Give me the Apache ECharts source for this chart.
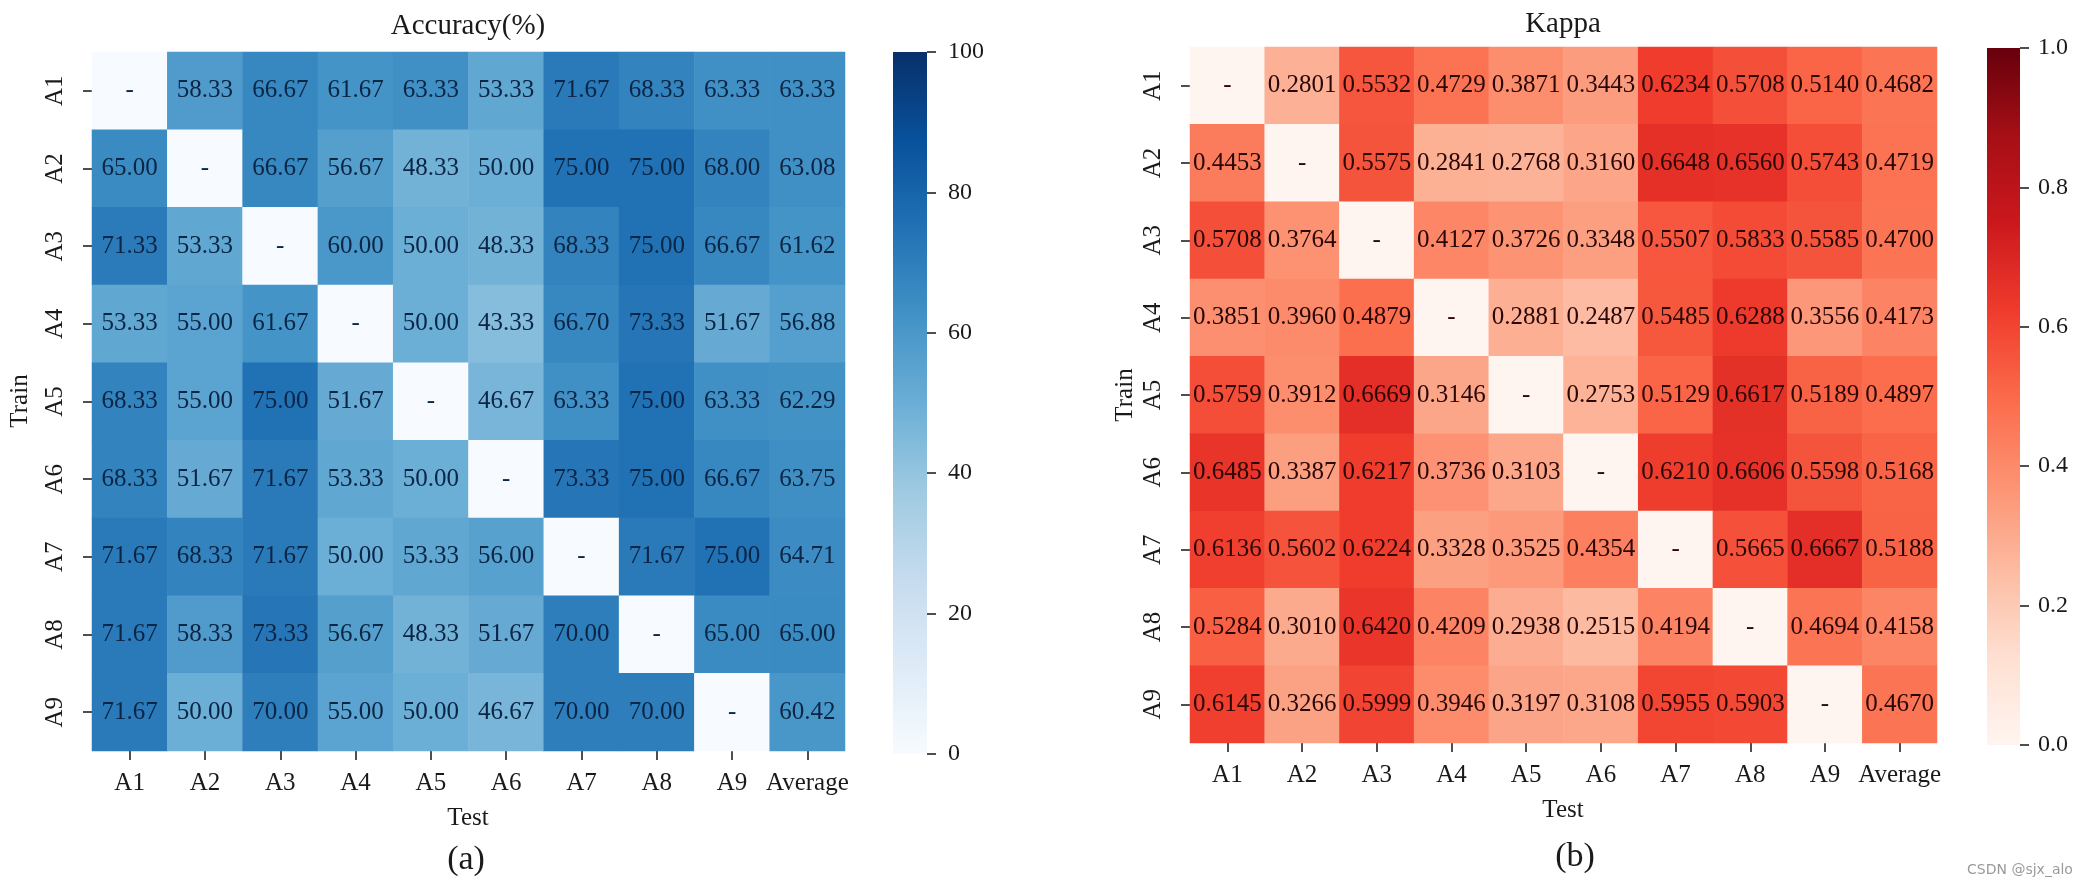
<!DOCTYPE html>
<html>
<head>
<meta charset="utf-8">
<script src="https://cdn.jsdelivr.net/npm/echarts@6/dist/echarts.min.js"></script>
<style>
html,body{margin:0;padding:0;background:#fff;}
#c{width:2079px;height:886px;}
</style>
</head>
<body>
<div id="c"></div>
<script>
// ---- data ----
const testCats = ['A1','A2','A3','A4','A5','A6','A7','A8','A9','Average'];
const trainCats = ['A1','A2','A3','A4','A5','A6','A7','A8','A9'];

const accA1 = ['-', 58.33, 66.67, 61.67, 63.33, 53.33, 71.67, 68.33, 63.33, 63.33];
const accA2 = [65.00, '-', 66.67, 56.67, 48.33, 50.00, 75.00, 75.00, 68.00, 63.08];
const accA3 = [71.33, 53.33, '-', 60.00, 50.00, 48.33, 68.33, 75.00, 66.67, 61.62];
const accA4 = [53.33, 55.00, 61.67, '-', 50.00, 43.33, 66.70, 73.33, 51.67, 56.88];
const accA5 = [68.33, 55.00, 75.00, 51.67, '-', 46.67, 63.33, 75.00, 63.33, 62.29];
const accA6 = [68.33, 51.67, 71.67, 53.33, 50.00, '-', 73.33, 75.00, 66.67, 63.75];
const accA7 = [71.67, 68.33, 71.67, 50.00, 53.33, 56.00, '-', 71.67, 75.00, 64.71];
const accA8 = [71.67, 58.33, 73.33, 56.67, 48.33, 51.67, 70.00, '-', 65.00, 65.00];
const accA9 = [71.67, 50.00, 70.00, 55.00, 50.00, 46.67, 70.00, 70.00, '-', 60.42];

const kapA1 = ['-', 0.2801, 0.5532, 0.4729, 0.3871, 0.3443, 0.6234, 0.5708, 0.5140, 0.4682];
const kapA2 = [0.4453, '-', 0.5575, 0.2841, 0.2768, 0.3160, 0.6648, 0.6560, 0.5743, 0.4719];
const kapA3 = [0.5708, 0.3764, '-', 0.4127, 0.3726, 0.3348, 0.5507, 0.5833, 0.5585, 0.4700];
const kapA4 = [0.3851, 0.3960, 0.4879, '-', 0.2881, 0.2487, 0.5485, 0.6288, 0.3556, 0.4173];
const kapA5 = [0.5759, 0.3912, 0.6669, 0.3146, '-', 0.2753, 0.5129, 0.6617, 0.5189, 0.4897];
const kapA6 = [0.6485, 0.3387, 0.6217, 0.3736, 0.3103, '-', 0.6210, 0.6606, 0.5598, 0.5168];
const kapA7 = [0.6136, 0.5602, 0.6224, 0.3328, 0.3525, 0.4354, '-', 0.5665, 0.6667, 0.5188];
const kapA8 = [0.5284, 0.3010, 0.6420, 0.4209, 0.2938, 0.2515, 0.4194, '-', 0.4694, 0.4158];
const kapA9 = [0.6145, 0.3266, 0.5999, 0.3946, 0.3197, 0.3108, 0.5955, 0.5903, '-', 0.4670];

const accTicks = [0, 20, 40, 60, 80, 100];
const kapTicks = [0.0, 0.2, 0.4, 0.6, 0.8, 1.0];

const accRows = [accA1, accA2, accA3, accA4, accA5, accA6, accA7, accA8, accA9];
const kapRows = [kapA1, kapA2, kapA3, kapA4, kapA5, kapA6, kapA7, kapA8, kapA9];

const blues = ['#f7fbff','#deebf7','#c6dbef','#9ecae1','#6baed6','#4292c6','#2171b5','#08519c','#08306b'];
const reds  = ['#fff5f0','#fee0d2','#fcbba1','#fc9272','#fb6a4a','#ef3b2c','#cb181d','#a50f15','#67000d'];

function build(rows, dec) {
  const out = [];
  rows.forEach((r, yi) => r.forEach((v, xi) => {
    const isNa = v === '-';
    out.push({ value: [xi, yi, isNa ? 0 : v], lbl: isNa ? '-' : v.toFixed(dec) });
  }));
  return out;
}

const SERIF = '"Liberation Serif", "Times New Roman", serif';
const TXT = '#1a1a1a';
const chart = echarts.init(document.getElementById('c'));

const tickStyle = { color: '#222', width: 1.6 };

function catX(gi) {
  return {
    type: 'category', gridIndex: gi, data: testCats, position: 'bottom',
    axisLine: { show: false, onZero: false },
    axisTick: { show: true, interval: 0, alignWithLabel: true, length: 9, lineStyle: tickStyle },
    axisLabel: { interval: 0, fontFamily: SERIF, fontSize: 25, color: TXT, margin: 20 },
    splitLine: { show: false }
  };
}
function catY(gi) {
  return {
    type: 'category', gridIndex: gi, data: trainCats, inverse: true,
    axisLine: { show: false, onZero: false },
    axisTick: { show: true, interval: 0, alignWithLabel: true, length: 9, lineStyle: tickStyle },
    axisLabel: { interval: 0, fontFamily: SERIF, fontSize: 25, color: TXT, rotate: 90, margin: 24 },
    splitLine: { show: false }
  };
}
function cbY(gi, ticks, dec, margin) {
  return {
    type: 'value', gridIndex: gi, position: 'right',
    min: ticks[0], max: ticks[ticks.length - 1], interval: ticks[1] - ticks[0],
    axisLine: { show: false, onZero: false },
    axisTick: { show: true, length: 9, lineStyle: tickStyle },
    axisLabel: { fontFamily: SERIF, fontSize: 24, color: TXT, margin: margin,
      formatter: v => dec ? v.toFixed(dec) : String(v) },
    splitLine: { show: false }
  };
}
function gradient(colors) {
  // bottom (min) -> top (max)
  return new echarts.graphic.LinearGradient(0, 1, 0, 0,
    colors.map((c, i) => ({ offset: i / (colors.length - 1), color: c })));
}

const cb1 = { left: 893, top: 52, width: 34, height: 702 };
const cb2 = { left: 1987, top: 48, width: 33, height: 697 };

function label(text, x, y, size, rot) {
  return { type: 'text', x: x, y: y, rotation: rot || 0, z: 10,
    style: { text: text, font: size + 'px ' + SERIF, fill: TXT,
      align: 'center', verticalAlign: 'middle', textAlign: 'center', textVerticalAlign: 'middle' } };
}

const option = {
  backgroundColor: '#fff',
  animation: false,
  grid: [
    { left: 92, top: 52, width: 753, height: 699 },
    { left: 1190, top: 47, width: 747, height: 696 },
    cb1, cb2
  ],
  xAxis: [
    catX(0), catX(1),
    { type: 'value', gridIndex: 2, show: false, min: 0, max: 1 },
    { type: 'value', gridIndex: 3, show: false, min: 0, max: 1 }
  ],
  yAxis: [
    catY(0), catY(1),
    cbY(2, accTicks, 0, 21),
    cbY(3, kapTicks, 1, 18)
  ],
  visualMap: [
    { type: 'continuous', show: false, seriesIndex: 0, min: 0, max: 100, inRange: { color: blues } },
    { type: 'continuous', show: false, seriesIndex: 1, min: 0, max: 1, inRange: { color: reds } }
  ],
  series: [
    { type: 'heatmap', xAxisIndex: 0, yAxisIndex: 0, data: build(accRows, 2),
      label: { show: true, fontFamily: SERIF, fontSize: 25, color: '#0b2545',
        formatter: p => p.data.lbl } },
    { type: 'heatmap', xAxisIndex: 1, yAxisIndex: 1, data: build(kapRows, 4),
      label: { show: true, fontFamily: SERIF, fontSize: 25, color: '#2a0808',
        formatter: p => p.data.lbl } }
  ],
  graphic: [
    { type: 'rect', z: -1, shape: { x: cb1.left, y: cb1.top, width: cb1.width, height: cb1.height },
      style: { fill: gradient(blues) } },
    { type: 'rect', z: -1, shape: { x: cb2.left, y: cb2.top, width: cb2.width, height: cb2.height },
      style: { fill: gradient(reds) } },
    label('Accuracy(%)', 468, 26, 29),
    label('Kappa', 1563, 24, 29),
    label('Test', 468, 818, 25),
    label('Test', 1563, 810, 25),
    label('Train', 20, 401, 25, Math.PI / 2),
    label('Train', 1125, 395, 25, Math.PI / 2),
    label('(a)', 466, 860, 34),
    label('(b)', 1575, 857, 34),
    { type: 'text', x: 2020, y: 870, z: 10, style: { text: 'CSDN @sjx_alo', font: '14px "DejaVu Sans", sans-serif', fill: '#9a9a9a',
      align: 'center', verticalAlign: 'middle', textAlign: 'center', textVerticalAlign: 'middle' } }
  ]
};
chart.setOption(option);
</script>
</body>
</html>
